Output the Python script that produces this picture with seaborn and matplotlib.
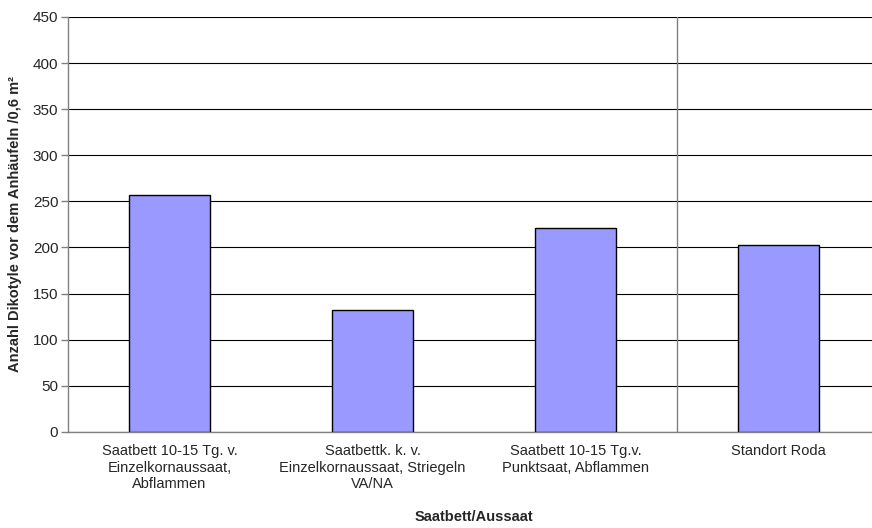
import pandas as pd
import seaborn as sns
import matplotlib.pyplot as plt
from matplotlib.ticker import FixedLocator

categories = ['Saatbett 10-15 Tg. v.\nEinzelkornaussaat,\nAbflammen',
              'Saatbettk. k. v.\nEinzelkornaussaat, Striegeln\nVA/NA',
              'Saatbett 10-15 Tg.v.\nPunktsaat, Abflammen',
              'Standort Roda']
values = [257, 132, 221, 203]
y_ticks = list(range(0, 451, 50))

df = pd.DataFrame({'Saatbett': categories, 'Anzahl': values})

sns.set_style('white')
plt.rcParams['font.family'] = ['Liberation Sans', 'DejaVu Sans']

fig = plt.figure(figsize=(8.72, 5.28), dpi=100)
ax = fig.add_axes([0.078, 0.182, 0.931, 0.786])

sns.barplot(data=df, x='Saatbett', y='Anzahl', color='#9999FF', saturation=1,
            width=0.4, edgecolor='black', linewidth=1, ax=ax, zorder=3)

ax.set_ylim(0, 450)
ax.set_xlim(-0.5, 3.5)
ax.set_yticks(y_ticks)
ax.set_yticklabels([str(t) for t in y_ticks], fontsize=11)
ax.yaxis.grid(True, color='black', linewidth=0.8)
ax.set_axisbelow(True)

# category ticks between the groups, labels centred under the bars
ax.set_xticks(range(len(categories)))
ax.set_xticklabels(categories, fontsize=10.5)
ax.tick_params(axis='x', which='major', length=0, pad=9)
ax.xaxis.set_minor_locator(FixedLocator([-0.5, 0.5, 1.5, 2.5, 3.5]))
ax.tick_params(axis='x', which='minor', length=5, color='#808080', width=1)
ax.tick_params(axis='y', length=5, color='#808080', width=1, left=True, pad=2)

ax.axvline(2.5, color='#808080', linewidth=1, zorder=2)

for side in ['top', 'right']:
    ax.spines[side].set_visible(False)
for side in ['left', 'bottom']:
    ax.spines[side].set_color('#808080')
    ax.spines[side].set_linewidth(1)

ax.set_xlabel('Saatbett/Aussaat', fontsize=10.5, fontweight='bold', labelpad=14)
ax.set_ylabel('Anzahl Dikotyle vor dem Anhäufeln /0,6 m²', fontsize=10.5, fontweight='bold', labelpad=8)

fig.savefig('out.png', dpi=100)
